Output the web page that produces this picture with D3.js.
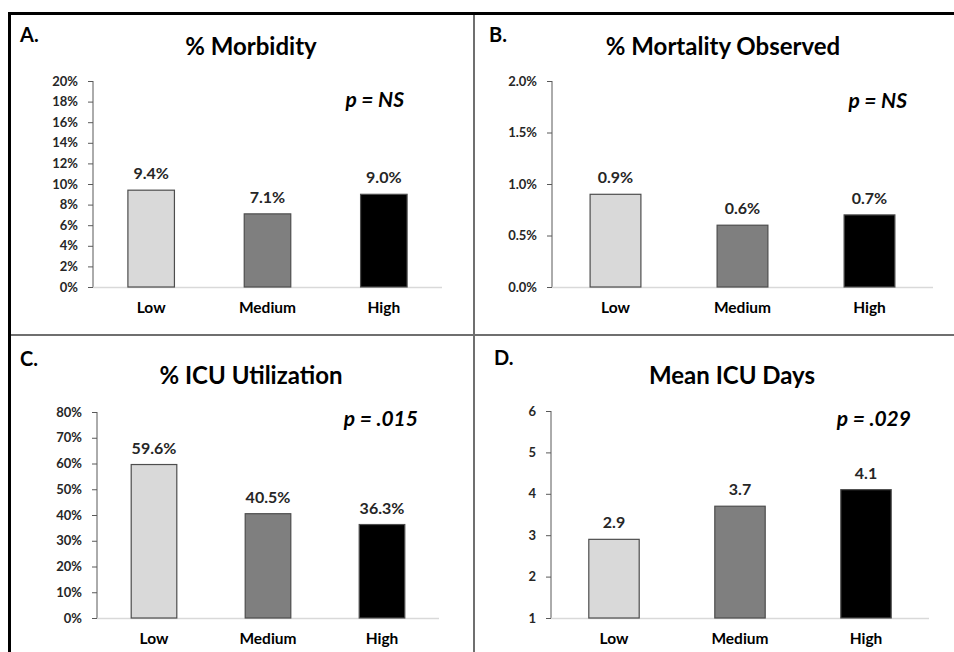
<!DOCTYPE html>
<html>
<head>
<meta charset="utf-8">
<script src="https://cdn.jsdelivr.net/npm/d3@7"></script>
<style>
  body { margin: 0; background: #fff; }
  svg { display: block; font-family: Lato, "Open Sans", sans-serif; }
</style>
</head>
<body>
<div id="dataviz"></div>
<script>
// chart values
var groups = ["Low", "Medium", "High"];
var barColors = ["#d9d9d9", "#7f7f7f", "#000000"];

var morbidity = [9.4, 7.1, 9.0];
var mortality = [0.9, 0.6, 0.7];
var icuUtil = [59.6, 40.5, 36.3];
var icuDays = [2.9, 3.7, 4.1];

var morbidityTicks = [0, 2, 4, 6, 8, 10, 12, 14, 16, 18, 20];
var mortalityTicks = [0, 0.5, 1.0, 1.5, 2.0];
var icuUtilTicks = [0, 10, 20, 30, 40, 50, 60, 70, 80];
var icuDaysTicks = [1, 2, 3, 4, 5, 6];

var letters = ["A.", "B.", "C.", "D."];
var titles = ["% Morbidity", "% Mortality Observed", "% ICU Utilization", "Mean ICU Days"];
var pLabels = ["p = NS", "p = NS", "p = .015", "p = .029"];

// panel layout
var panels = [
    { values: morbidity, ticks: morbidityTicks, tf: function (d) { return d + "%"; }, vf: function (d) { return d.toFixed(1) + "%"; },
      left: 93, right: 442, top: 81, bottom: 287, titleX: 251, titleY: 55, letterX: 20, letterY: 42, pX: 404, pY: 107, catY: 313 },
    { values: mortality, ticks: mortalityTicks, tf: function (d) { return d.toFixed(1) + "%"; }, vf: function (d) { return d.toFixed(1) + "%"; },
      left: 552, right: 933, top: 81, bottom: 287, titleX: 723, titleY: 55, letterX: 489, letterY: 42, pX: 907, pY: 108, catY: 313 },
    { values: icuUtil, ticks: icuUtilTicks, tf: function (d) { return d + "%"; }, vf: function (d) { return d.toFixed(1) + "%"; },
      left: 97, right: 439, top: 412, bottom: 618, titleX: 251, titleY: 384, letterX: 20, letterY: 366, pX: 418, pY: 426, catY: 644 },
    { values: icuDays, ticks: icuDaysTicks, tf: function (d) { return d; }, vf: function (d) { return d.toFixed(1); },
      left: 551, right: 929, top: 411, bottom: 618, titleX: 732, titleY: 384, letterX: 494, letterY: 365, pX: 911, pY: 426, catY: 644 }
];

var svg = d3.select("#dataviz")
    .append("svg")
    .attr("width", 954)
    .attr("height", 652)
    .attr("viewBox", "0 0 954 652");

// frame and dividers
svg.append("line").attr("x1", 474).attr("x2", 474).attr("y1", 13).attr("y2", 652)
    .attr("stroke", "#6f6f6f").attr("stroke-width", 2);
svg.append("line").attr("x1", 9).attr("x2", 954).attr("y1", 335).attr("y2", 335)
    .attr("stroke", "#6f6f6f").attr("stroke-width", 2);
svg.append("line").attr("x1", 8).attr("x2", 954).attr("y1", 13.5).attr("y2", 13.5)
    .attr("stroke", "#000").attr("stroke-width", 3);
svg.append("line").attr("x1", 9.5).attr("x2", 9.5).attr("y1", 12).attr("y2", 652)
    .attr("stroke", "#000").attr("stroke-width", 3);

panels.forEach(function (p, i) {
    var g = svg.append("g");

    var x = d3.scaleBand()
        .domain(groups)
        .range([p.left, p.right])
        .paddingInner(0.6)
        .paddingOuter(0.3);

    var y = d3.scaleLinear()
        .domain([p.ticks[0], p.ticks[p.ticks.length - 1]])
        .range([p.bottom, p.top]);

    // y axis
    var yAxis = g.append("g")
        .attr("transform", "translate(" + p.left + ",0)")
        .call(d3.axisLeft(y).tickValues(p.ticks).tickSize(5).tickPadding(10).tickFormat(p.tf));
    yAxis.attr("font-family", null).attr("font-size", null);
    yAxis.select(".domain").attr("stroke", "#595959").attr("d", "M0," + p.top + "V" + p.bottom);
    yAxis.selectAll(".tick line").attr("stroke", "#595959");
    yAxis.selectAll("text")
        .attr("fill", "#262626")
        .style("font-size", "13px")
        .style("font-weight", "bold");

    // x baseline
    g.append("line")
        .attr("x1", p.left).attr("x2", p.right)
        .attr("y1", p.bottom + 0.5).attr("y2", p.bottom + 0.5)
        .attr("stroke", "#d9d9d9").attr("stroke-width", 1.5);

    // bars
    g.selectAll("rect")
        .data(p.values)
        .enter()
        .append("rect")
        .attr("x", function (d, j) { return x(groups[j]); })
        .attr("y", function (d) { return y(d); })
        .attr("width", x.bandwidth())
        .attr("height", function (d) { return y(p.ticks[0]) - y(d); })
        .attr("fill", function (d, j) { return barColors[j]; })
        .attr("stroke", "#4d4d4d")
        .attr("stroke-width", 1.2);

    // value labels
    g.selectAll(".val")
        .data(p.values)
        .enter()
        .append("text")
        .attr("x", function (d, j) { return x(groups[j]) + x.bandwidth() / 2; })
        .attr("y", function (d) { return y(d) - 11; })
        .attr("text-anchor", "middle")
        .style("font-size", "16px")
        .style("font-weight", "bold")
        .attr("fill", "#262626")
        .text(p.vf);

    // category labels
    g.selectAll(".cat")
        .data(groups)
        .enter()
        .append("text")
        .attr("x", function (d) { return x(d) + x.bandwidth() / 2; })
        .attr("y", p.catY)
        .attr("text-anchor", "middle")
        .style("font-size", "15.5px")
        .style("font-weight", "bold")
        .attr("fill", "#000")
        .text(function (d) { return d; });

    // title, letter, p value
    g.append("text")
        .attr("x", p.titleX).attr("y", p.titleY)
        .attr("text-anchor", "middle")
        .style("font-size", "24px")
        .style("font-weight", "bold")
        .text(titles[i]);

    g.append("text")
        .attr("x", p.letterX).attr("y", p.letterY)
        .style("font-size", "20px")
        .style("font-weight", "bold")
        .text(letters[i]);

    g.append("text")
        .attr("x", p.pX).attr("y", p.pY)
        .attr("text-anchor", "end")
        .style("font-size", "21px")
        .style("font-weight", "bold")
        .style("font-style", "italic")
        .text(pLabels[i]);
});
</script>
</body>
</html>
